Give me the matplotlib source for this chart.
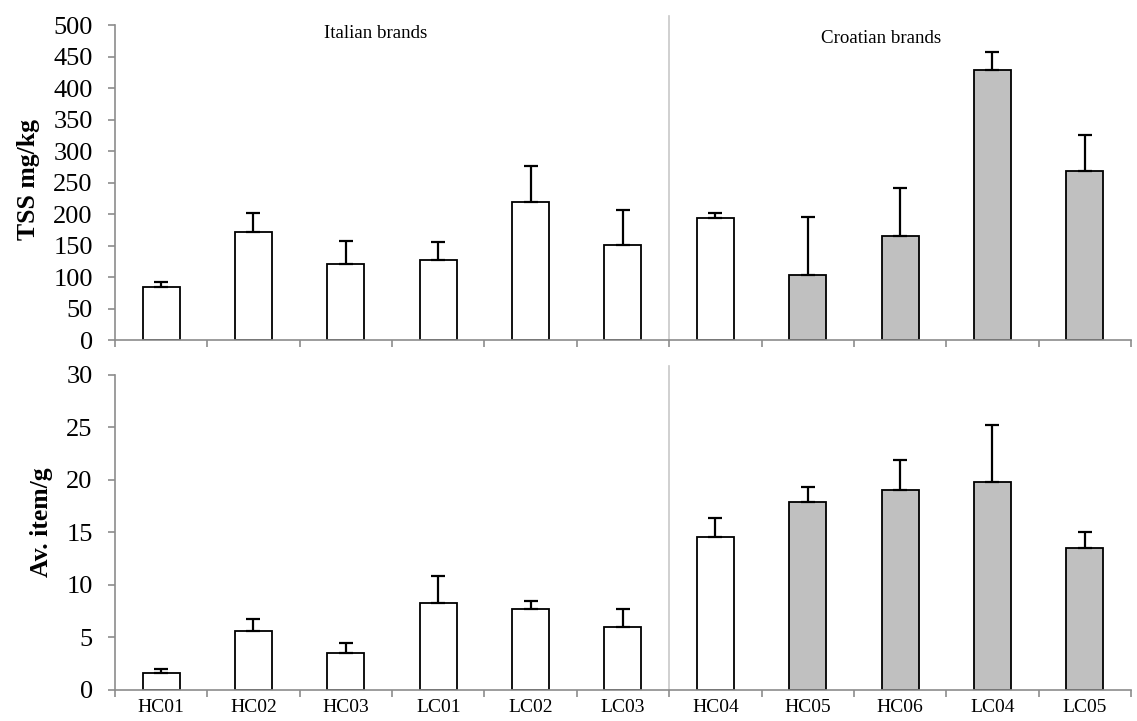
import matplotlib
matplotlib.use("Agg")
import matplotlib.pyplot as plt
import numpy as np

categories = ["HC01", "HC02", "HC03", "LC01", "LC02", "LC03",
              "HC04", "HC05", "HC06", "LC04", "LC05"]
tss_mean = [84, 171, 120, 127, 219, 151, 194, 104, 165, 429, 269]
tss_err = [8, 30, 37, 29, 58, 56, 8, 92, 77, 28, 57]
items_mean = [1.65, 5.65, 3.49, 8.32, 7.68, 6.0, 14.57, 17.9, 19.0, 19.84, 13.56]
items_err = [0.35, 1.1, 1.0, 2.57, 0.8, 1.7, 1.8, 1.4, 2.9, 5.4, 1.5]
fill_colors = ["white"] * 6 + ["white"] + ["#c0c0c0"] * 4
group_labels = ["Italian brands", "Croatian brands"]

plt.rcParams['font.family'] = ['Liberation Serif', 'DejaVu Serif']

fig = plt.figure(figsize=(11.37, 7.21), dpi=100)
ax1 = fig.add_axes([0.1011, 0.5284, 0.8936, 0.4369])
ax2 = fig.add_axes([0.1011, 0.0430, 0.8936, 0.4369])

x = np.arange(len(categories))
spine_c = "#8c8c8c"

def style(ax, means, errs, ymax, step, ylabel, lab_x, lab_y):
    ax.bar(x, means, width=0.40, color=fill_colors,
           edgecolor="black", linewidth=1.3, zorder=2)
    ax.errorbar(x, means, yerr=[np.zeros(len(x)), errs],
                fmt="none", ecolor="black", elinewidth=1.6, capsize=5,
                capthick=1.6, zorder=3)
    ax.set_xlim(-0.5, len(categories) - 0.5)
    ax.set_ylim(0, ymax)
    ax.set_yticks(np.arange(0, ymax + step / 2, step))
    for s in ["top", "right"]:
        ax.spines[s].set_visible(False)
    for s in ["left", "bottom"]:
        ax.spines[s].set_color(spine_c)
        ax.spines[s].set_linewidth(1.2)
    ax.tick_params(axis="y", colors=spine_c, labelcolor="black",
                   labelsize=19, length=5, width=1.2, pad=11)
    ax.set_xticks(np.arange(-0.5, len(categories), 1.0), minor=True)
    ax.tick_params(axis="x", which="minor", colors=spine_c, length=5, width=1.2)
    ax.tick_params(axis="x", which="major", length=0)
    ax.set_ylabel(ylabel, fontsize=18.5, fontweight="bold")
    ax.yaxis.label.set_va("center")
    ax.yaxis.set_label_coords(lab_x, lab_y)
    ax.axvline(5.5, ymin=0, ymax=1.03, color="#c8c8c8", linewidth=1.2,
               clip_on=False, zorder=1)

style(ax1, tss_mean, tss_err, 500, 50, "TSS mg/kg", -0.085, 0.511)
style(ax2, items_mean, items_err, 30, 5, "Av. item/g", -0.072, 0.533)

ax1.set_xticks(x)
ax1.set_xticklabels([])
ax2.set_xticks(x)
ax2.set_xticklabels(categories, fontsize=14)
ax2.tick_params(axis="x", which="major", pad=6.5)

ax1.text(2.32, 487, group_labels[0], ha="center", va="center", fontsize=13.6)
ax1.text(7.79, 479, group_labels[1], ha="center", va="center", fontsize=13.6)

fig.savefig("out.png", dpi=100)
